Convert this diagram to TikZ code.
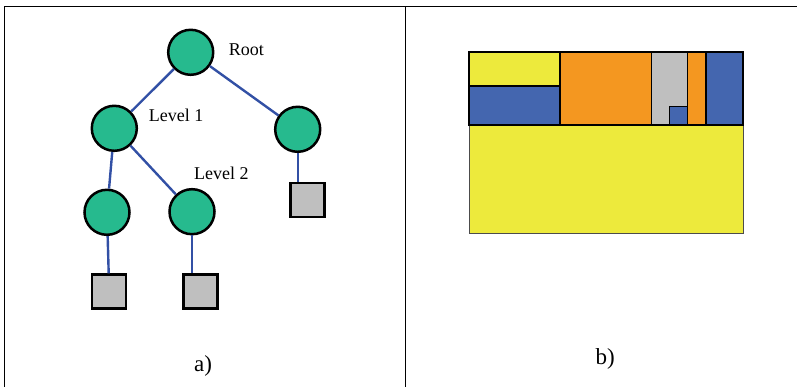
\documentclass[tikz,border=0pt]{standalone}
\usepackage{fontspec}
\setmainfont{Liberation Serif}
\definecolor{tgreen}{RGB}{38,186,142}
\definecolor{tblue}{RGB}{50,80,165}
\definecolor{pyellow}{RGB}{237,234,60}
\definecolor{porange}{RGB}{244,151,32}
\definecolor{pblue}{RGB}{68,102,175}
\definecolor{pgray}{RGB}{191,191,191}
\tikzset{
  treenode/.style={circle,draw=black,line width=2.5pt,fill=tgreen,minimum size=45pt,inner sep=0pt},
  leafbox/.style={rectangle,draw=black,line width=2.5pt,fill=pgray,minimum size=34pt,inner sep=0pt},
  link/.style={draw=tblue,line width=2.4pt},
  lbl/.style={anchor=base west,inner sep=0pt,font=\fontsize{18}{20}\selectfont},
  captext/.style={anchor=base west,inner sep=0pt,font=\fontsize{23}{25}\selectfont},
  blockpart/.style={draw=black,line width=1.5pt},
  tableline/.style={draw=black,line width=1pt}
}
\begin{document}
\begin{tikzpicture}[x=1pt,y=-1pt]
\useasboundingbox (0,0) rectangle (797,387);
% table lines
\draw[tableline] (4.5,387) -- (4.5,7) -- (797,7);
\draw[tableline] (405,7) -- (405,387);
% tree
\node[treenode] (root) at (190.7,52.3) {};
\node[treenode] (l1a) at (114.3,128.3) {};
\node[treenode] (l1b) at (297.7,129.3) {};
\node[treenode] (l2a) at (107,212.3) {};
\node[treenode] (l2b) at (192,211.7) {};
\node[leafbox] (sq1) at (307.5,200.2) {};
\node[leafbox] (sq2) at (109.2,291.7) {};
\node[leafbox] (sq3) at (200.3,291.7) {};
\draw[link] (root) -- (l1a);
\draw[link] (root) -- (l1b);
\draw[link] (l1a) -- (l2a);
\draw[link] (l1a) -- (l2b);
\draw[link] (l2a) -- (sq2);
\draw[link] (l2b.south) -- (sq3.north -| l2b.south);
\draw[link] (l1b) -- (sq1.north -| l1b);
\node[lbl] (troot) at (228.7,55.3) {Root};
\node[lbl] (tl1) at (148.7,122) {Level 1};
\node[lbl] (tl2) at (194,180) {Level 2};
\node[captext] (ca) at (194,371) {a)};
% panel b
\fill[pyellow] (469,124.7) rectangle (743,233.3);
\draw[draw=black!70,line width=1pt] (469,124.7) rectangle (743,233.3);
\filldraw[blockpart,fill=pyellow] (469,51.7) rectangle (560,86);
\filldraw[blockpart,fill=pblue] (469,86) rectangle (560,124.7);
\filldraw[blockpart,fill=porange] (560,51.7) rectangle (651.3,124.7);
\filldraw[blockpart,fill=pgray] (651.3,51.7) rectangle (687.7,124.7);
\filldraw[blockpart,fill=pblue] (669.3,106.7) rectangle (687.7,124.7);
\filldraw[blockpart,fill=porange] (687.7,51.7) rectangle (706,124.7);
\filldraw[blockpart,fill=pblue] (706,51.7) rectangle (743,124.7);
\draw[draw=black,line width=2pt] (469,51.7) rectangle (743,124.7);
\node[captext] (cb) at (595.5,364) {b)};
\end{tikzpicture}
\end{document}
